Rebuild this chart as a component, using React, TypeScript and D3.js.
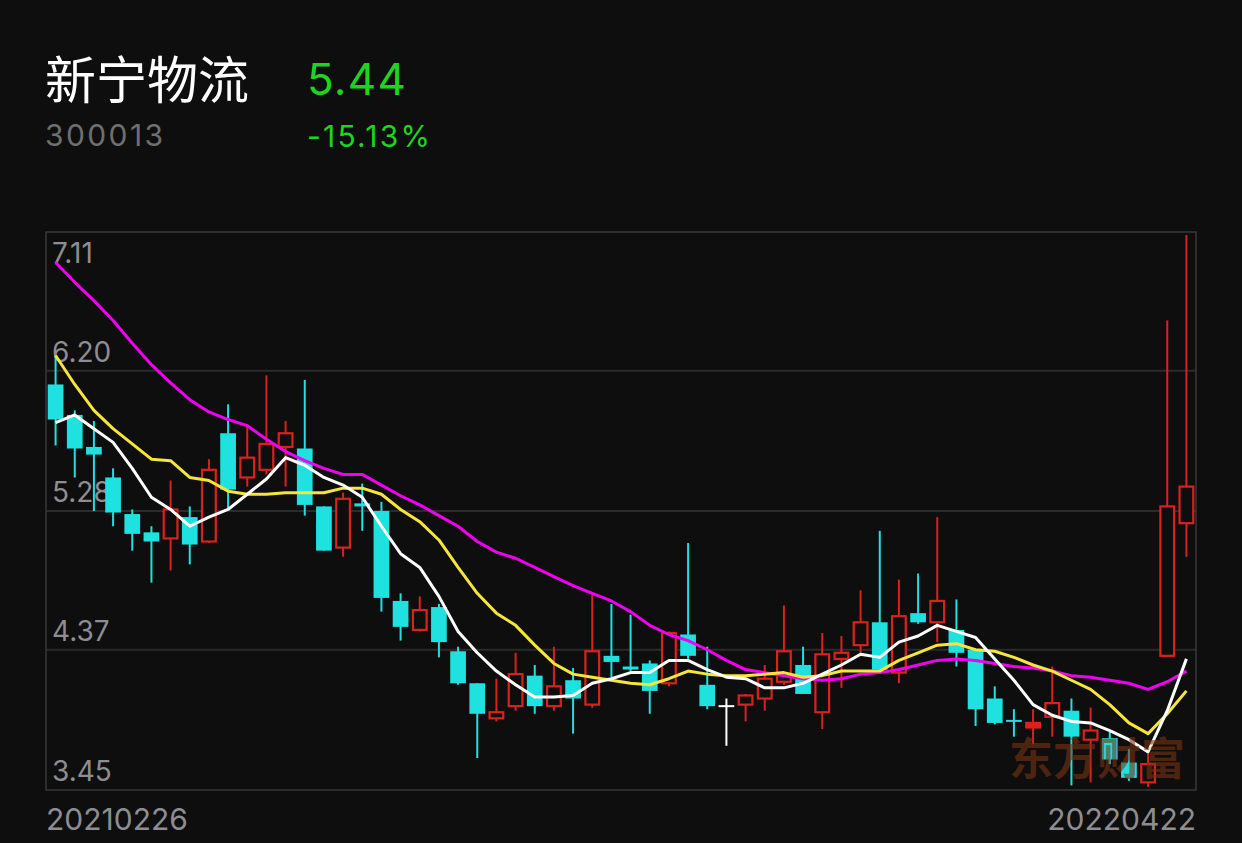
import React from 'react';
import * as d3 from 'd3';

// daily candles, 2021-02-26 .. 2022-04-22
const opens = [
  6.11, 5.91, 5.70, 5.50, 5.26, 5.14, 5.10, 5.24, 5.08, 5.79,
  5.50, 5.55, 5.70, 5.69, 5.31, 5.04, 5.33, 5.28, 4.69, 4.50,
  4.65, 4.36, 4.15, 3.92, 4.00, 4.20, 4.00, 4.17, 4.01, 4.33,
  4.26, 4.28, 4.15, 4.47, 4.14, 4.00, 4.01, 4.05, 4.16, 4.27,
  3.96, 4.31, 4.40, 4.55, 4.22, 4.61, 4.55, 4.50, 4.37, 4.05,
  3.91, 3.86, 3.93, 3.97, 3.78, 3.79, 3.63, 3.50, 4.33, 5.20,
];
const highs = [
  6.30, 5.94, 5.87, 5.56, 5.29, 5.18, 5.48, 5.31, 5.62, 5.98,
  5.85, 6.17, 5.87, 6.14, 5.31, 5.40, 5.46, 5.34, 4.74, 4.72,
  4.67, 4.39, 4.15, 4.18, 4.35, 4.27, 4.39, 4.25, 4.74, 4.67,
  4.60, 4.30, 4.49, 5.07, 4.39, 4.05, 4.08, 4.27, 4.66, 4.39,
  4.48, 4.46, 4.76, 5.15, 4.83, 4.87, 5.24, 4.70, 4.37, 4.13,
  3.98, 3.98, 4.26, 4.05, 3.99, 3.83, 3.72, 3.69, 6.53, 7.09,
];
const lows = [
  5.71, 5.50, 5.28, 5.18, 5.02, 4.81, 4.89, 4.93, 5.07, 5.30,
  5.44, 5.52, 5.44, 5.25, 5.02, 4.98, 5.15, 4.62, 4.43, 4.49,
  4.32, 4.14, 3.66, 3.90, 3.97, 3.95, 3.97, 3.82, 3.99, 4.19,
  4.22, 3.95, 4.13, 4.31, 3.98, 3.74, 3.90, 3.97, 4.14, 4.08,
  3.85, 4.12, 4.35, 4.24, 4.15, 4.54, 4.42, 4.26, 3.87, 3.88,
  3.80, 3.75, 3.80, 3.48, 3.50, 3.62, 3.51, 3.47, 4.33, 4.98,
];
const closes = [
  5.88, 5.69, 5.65, 5.27, 5.13, 5.08, 5.29, 5.06, 5.55, 5.42,
  5.63, 5.72, 5.79, 5.32, 5.02, 5.36, 5.31, 4.71, 4.52, 4.63,
  4.42, 4.15, 3.95, 3.96, 4.21, 4.00, 4.13, 4.05, 4.36, 4.29,
  4.24, 4.10, 4.48, 4.33, 4.00, 4.00, 4.07, 4.18, 4.36, 4.08,
  4.34, 4.35, 4.55, 4.24, 4.59, 4.55, 4.69, 4.35, 3.98, 3.89,
  3.90, 3.89, 4.02, 3.80, 3.84, 3.65, 3.53, 3.62, 5.31, 5.44,
];

// moving averages as drawn
const ma5 = [
  5.86, 5.91, 5.82, 5.73, 5.56, 5.37, 5.29, 5.18, 5.24, 5.29,
  5.39, 5.49, 5.63, 5.58, 5.50, 5.45, 5.37, 5.18, 5.00, 4.91,
  4.72, 4.49, 4.35, 4.23, 4.14, 4.06, 4.06, 4.07, 4.15, 4.18,
  4.22, 4.22, 4.30, 4.30, 4.24, 4.19, 4.18, 4.12, 4.12, 4.15,
  4.21, 4.27, 4.34, 4.32, 4.42, 4.46, 4.53, 4.49, 4.45, 4.31,
  4.17, 4.01, 3.94, 3.90, 3.89, 3.84, 3.78, 3.70, 3.97, 4.31,
];
const ma10 = [
  6.30, 6.11, 5.94, 5.82, 5.72, 5.62, 5.61, 5.50, 5.48, 5.41,
  5.39, 5.39, 5.40, 5.40, 5.40, 5.43, 5.43, 5.39, 5.29, 5.21,
  5.09, 4.91, 4.74, 4.61, 4.53, 4.40, 4.28, 4.21, 4.19, 4.17,
  4.15, 4.14, 4.18, 4.23, 4.21, 4.20, 4.20, 4.21, 4.22, 4.19,
  4.20, 4.23, 4.23, 4.23, 4.30, 4.35, 4.40, 4.41, 4.37, 4.36,
  4.32, 4.27, 4.23, 4.17, 4.11, 4.01, 3.89, 3.82, 3.95, 4.10,
];
const ma20 = [
  6.91, 6.78, 6.66, 6.53, 6.38, 6.24, 6.12, 6.01, 5.93, 5.88,
  5.84, 5.75, 5.67, 5.61, 5.56, 5.52, 5.52, 5.45, 5.38, 5.32,
  5.25, 5.18, 5.08, 5.01, 4.97, 4.91, 4.85, 4.79, 4.74, 4.69,
  4.62, 4.53, 4.47, 4.43, 4.37, 4.30, 4.24, 4.22, 4.20, 4.18,
  4.17, 4.18, 4.21, 4.22, 4.24, 4.27, 4.30, 4.31, 4.30, 4.28,
  4.26, 4.25, 4.23, 4.20, 4.19, 4.17, 4.15, 4.11, 4.16, 4.23,
];

const priceTicks = [7.11, 6.2, 5.28, 4.37, 3.45];
const priceLabels = ['7.11', '6.20', '5.28', '4.37', '3.45'];
const dateLabels = ['20210226', '20220422'];

const stockName = '新宁物流';
const stockCode = '300013';
const lastPrice = '5.44';
const changePct = '-15.13%';

const W = 1242;
const H = 843;
const plot = { left: 46, right: 1196, top: 232, bottom: 790 };

const BG = '#0e0e0e';
const UP = '#d9221e';
const DOWN = '#1fe1df';
const GREEN = '#1ed41e';
const AXIS_TXT = '#8d8d92';
const NUM_FONT = 'Inter, Roboto, "Noto Sans", sans-serif';
const CJK_FONT = '"Noto Sans CJK SC", "Noto Sans", sans-serif';

const App: React.FC = () => {
  const idx = d3.range(closes.length);
  const x = d3.scaleBand<number>()
    .domain(idx)
    .range([plot.left, plot.right])
    .paddingInner(0.18)
    .paddingOuter(0.09);
  const y = d3.scaleLinear()
    .domain([priceTicks[priceTicks.length - 1], priceTicks[0]])
    .range([plot.bottom, plot.top]);

  const bw = x.bandwidth();
  const cx = (i: number) => (x(i) ?? 0) + bw / 2;

  const line = d3.line<number>()
    .x((_, i) => cx(i))
    .y(d => y(d));

  const maLines = [
    { values: ma20, color: '#f000f0' },
    { values: ma10, color: '#f6e53a' },
    { values: ma5, color: '#ffffff' },
  ];

  return (
    <div style={{ position: 'absolute', left: 0, top: 0, width: W, height: H, background: BG }}>
      <svg width={W} height={H} viewBox={`0 0 ${W} ${H}`} style={{ display: 'block' }}>
        <rect x={0} y={0} width={W} height={H} fill={BG} />

        {/* header */}
        <text x={45} y={99} fontFamily={CJK_FONT} fontSize={51} fill="#ffffff">{stockName}</text>
        <text x={307} y={95} fontFamily={NUM_FONT} fontSize={44} fill={GREEN} letterSpacing={1.3}>{lastPrice}</text>
        <text x={45} y={146} fontFamily={NUM_FONT} fontSize={30} fill="#6f6f6f" letterSpacing={2.4}>{stockCode}</text>
        <text x={307} y={146.5} fontFamily={NUM_FONT} fontSize={30} fill={GREEN} letterSpacing={2.2}>{changePct}</text>

        {/* grid */}
        {priceTicks.slice(1, -1).map(t => (
          <line key={`g-${t}`} x1={plot.left} x2={plot.right} y1={y(t)} y2={y(t)} stroke="#2b2b2b" strokeWidth={2} />
        ))}
        <rect
          x={plot.left}
          y={plot.top}
          width={plot.right - plot.left}
          height={plot.bottom - plot.top}
          fill="none"
          stroke="#383838"
          strokeWidth={1.5}
        />

        {/* price labels: top one sits under its line, the rest above */}
        {priceTicks.map((t, i) => (
          <text
            key={`pl-${t}`}
            x={52}
            y={i === 0 ? y(t) + 31 : y(t) - 9}
            fontFamily={NUM_FONT}
            fontSize={28}
            fill={AXIS_TXT}
          >
            {priceLabels[i]}
          </text>
        ))}

        {/* candles */}
        <g>
          {idx.map(i => {
            const o = opens[i];
            const c = closes[i];
            const hi = highs[i];
            const lo = lows[i];
            const mid = cx(i);
            const up = c > o;
            const flat = c === o;
            const color = flat ? '#ffffff' : up ? UP : DOWN;
            const top = y(Math.max(o, c));
            const bot = y(Math.min(o, c));
            const bodyH = Math.max(bot - top, 2);
            if (up) {
              return (
                <g key={`c-${i}`}>
                  <line x1={mid} x2={mid} y1={y(hi)} y2={top} stroke={color} strokeWidth={2} />
                  <line x1={mid} x2={mid} y1={bot} y2={y(lo)} stroke={color} strokeWidth={2} />
                  <rect
                    x={(x(i) ?? 0) + 1}
                    y={top}
                    width={bw - 2}
                    height={Math.max(bot - top, 1)}
                    fill={bot - top < 5 ? color : BG}
                    stroke={color}
                    strokeWidth={2.2}
                  />
                </g>
              );
            }
            return (
              <g key={`c-${i}`}>
                <line x1={mid} x2={mid} y1={y(hi)} y2={y(lo)} stroke={color} strokeWidth={2} />
                <rect x={x(i)} y={flat ? top - 1 : top} width={bw} height={bodyH} fill={color} />
              </g>
            );
          })}
        </g>

        {/* moving averages */}
        {maLines.map(m => (
          <path
            key={m.color}
            d={line(m.values) || ''}
            fill="none"
            stroke={m.color}
            strokeWidth={3}
            strokeLinejoin="round"
          />
        ))}

        {/* watermark */}
        <text
          x={1009}
          y={775}
          fontFamily={CJK_FONT}
          fontWeight={700}
          fontSize={44}
          fill="#7a3411"
          opacity={0.58}
        >
          东方财富
        </text>

        {/* dates */}
        <text x={46} y={829.5} fontFamily={NUM_FONT} fontSize={30} fill={AXIS_TXT}>{dateLabels[0]}</text>
        <text x={1196} y={829.5} textAnchor="end" fontFamily={NUM_FONT} fontSize={30} fill={AXIS_TXT}>{dateLabels[1]}</text>
      </svg>
    </div>
  );
};

export default App;
